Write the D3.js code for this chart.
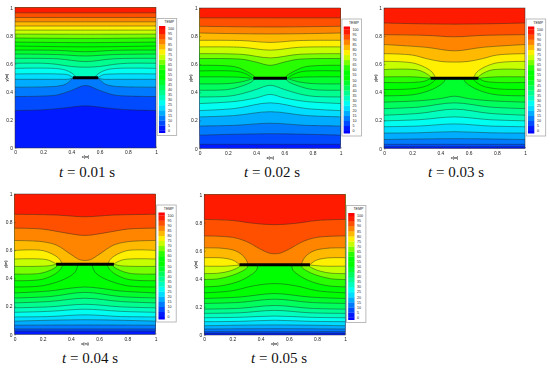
<!DOCTYPE html>
<html>
<head>
<meta charset="utf-8">
<script src="https://cdn.jsdelivr.net/npm/d3@7"></script>
<style>
  html, body { margin: 0; background: #fff; }
  svg { display: block; }
  .soft { filter: blur(0.3px); }
  .tick text, .legend text, .axis-name { font-family: "Liberation Sans", Arial, sans-serif; fill: #222; }
  .when { font-family: "Liberation Serif", serif; font-size: 15px; fill: #111; }
</style>
</head>
<body>
<div id="chart"></div>
<script>
// values
const legendLevels = [0, 5, 10, 15, 20, 25, 30, 35, 40, 45, 50, 55, 60, 65, 70, 75, 80, 85, 90, 95, 100];
const contourLevels = legendLevels.slice(1, -1);
const xTicks = [0, 0.2, 0.4, 0.6, 0.8, 1];
const yTicks = [0, 0.2, 0.4, 0.6, 0.8, 1];
const titles = ["0.01", "0.02", "0.03", "0.04", "0.05"];
const plateLeft = [0.41, 0.38, 0.33, 0.295, 0.25];

// each contour: left half only as [x, y], mirrored about x = 0.5. one entry per contourLevels
const contours01 = [
  [[0, .267], [.2, .272], [.35, .285], [.5, .30]],
  [[0, .366], [.2, .37], [.3, .378], [.4, .41], [.5, .445]],
  [[0, .433], [.2, .435], [.3, .44], [.36, .455], [.41, .497]],
  [[0, .489], [.3, .489], [.38, .49], [.41, .498]],
  [[0, .527], [.3, .527], [.38, .52], [.41, .50]],
  [[0, .567], [.3, .565], [.37, .55], [.42, .52], [.435, .50]],
  [[0, .603], [.2, .603], [.3, .595], [.4, .58], [.5, .575]],
  [[0, .638], [.3, .635], [.5, .615]],
  [[0, .669], [.3, .665], [.5, .655]],
  [[0, .697], [.3, .695], [.5, .685]],
  [[0, .726], [.5, .72]],
  [[0, .754], [.5, .75]],
  [[0, .783], [.5, .78]],
  [[0, .811], [.5, .81]],
  [[0, .839], [.5, .839]],
  [[0, .868], [.5, .868]],
  [[0, .898], [.5, .898]],
  [[0, .929], [.5, .929]],
  [[0, .962], [.5, .962]]
];
const contours02 = [
  [[0, .03], [.5, .03]],
  [[0, .095], [.5, .105]],
  [[0, .16], [.25, .165], [.5, .18]],
  [[0, .225], [.25, .235], [.5, .262]],
  [[0, .27], [.25, .285], [.5, .325]],
  [[0, .32], [.25, .335], [.4, .36], [.5, .385]],
  [[0, .367], [.2, .372], [.3, .39], [.4, .42], [.5, .45]],
  [[0, .415], [.2, .42], [.3, .445], [.37, .475], [.39, .497]],
  [[0, .46], [.2, .462], [.3, .475], [.36, .492], [.375, .497]],
  [[0, .51], [.27, .508], [.36, .50]],
  [[0, .552], [.27, .548], [.34, .525], [.375, .50]],
  [[0, .592], [.25, .582], [.33, .55], [.38, .52], [.40, .50]],
  [[0, .64], [.3, .635], [.4, .615], [.5, .592]],
  [[0, .675], [.3, .67], [.5, .645]],
  [[0, .723], [.3, .72], [.5, .70]],
  [[0, .77], [.3, .768], [.5, .755]],
  [[0, .822], [.5, .815]],
  [[0, .87], [.5, .865]],
  [[0, .93], [.5, .93]]
];
const contours03 = [
  [[0, .012], [.5, .012]],
  [[0, .03], [.5, .03]],
  [[0, .064], [.5, .07]],
  [[0, .11], [.25, .112], [.5, .12]],
  [[0, .155], [.25, .16], [.5, .175]],
  [[0, .197], [.25, .205], [.5, .225]],
  [[0, .237], [.25, .25], [.5, .28]],
  [[0, .284], [.25, .295], [.5, .325]],
  [[0, .33], [.25, .34], [.4, .355], [.5, .372]],
  [[0, .375], [.2, .382], [.3, .405], [.38, .44], [.425, .475], [.435, .497]],
  [[0, .42], [.2, .425], [.3, .445], [.35, .475], [.37, .497]],
  [[0, .47], [.2, .47], [.29, .48], [.325, .497]],
  [[0, .51], [.2, .51], [.28, .505], [.33, .50]],
  [[0, .562], [.245, .557], [.327, .514], [.335, .50]],
  [[0, .62], [.22, .605], [.34, .545], [.365, .50]],
  [[0, .675], [.2, .665], [.3, .64], [.4, .62], [.5, .615]],
  [[0, .74], [.3, .72], [.5, .695]],
  [[0, .81], [.3, .805], [.5, .795]],
  [[0, .893], [.5, .885]]
];
const contours04 = [
  [[0, .024], [.5, .024]],
  [[0, .04], [.5, .04]],
  [[0, .066], [.5, .068]],
  [[0, .095], [.5, .105]],
  [[0, .125], [.25, .128], [.5, .14]],
  [[0, .158], [.25, .165], [.5, .18]],
  [[0, .19], [.25, .197], [.5, .215]],
  [[0, .225], [.25, .235], [.5, .258]],
  [[0, .26], [.25, .27], [.5, .30]],
  [[0, .296], [.25, .31], [.4, .33], [.5, .338]],
  [[0, .338], [.206, .348], [.371, .402], [.43, .445], [.45, .497]],
  [[0, .383], [.206, .395], [.312, .449], [.345, .497]],
  [[0, .43], [.18, .435], [.26, .46], [.30, .485], [.31, .497]],
  [[0, .485], [.15, .485], [.25, .49], [.295, .50]],
  [[0, .537], [.23, .532], [.30, .50]],
  [[0, .598], [.206, .596], [.312, .544], [.335, .508], [.337, .50]],
  [[0, .669], [.2, .66], [.3, .635], [.4, .57], [.46, .533], [.5, .527]],
  [[0, .757], [.2, .75], [.35, .725], [.5, .705]],
  [[0, .856], [.3, .85], [.5, .838]]
];
const contours05 = [
  [[0, .012], [.5, .012]],
  [[0, .024], [.5, .024]],
  [[0, .043], [.5, .045]],
  [[0, .066], [.5, .072]],
  [[0, .095], [.25, .097], [.5, .105]],
  [[0, .123], [.25, .126], [.5, .135]],
  [[0, .154], [.25, .158], [.5, .175]],
  [[0, .184], [.25, .19], [.5, .21]],
  [[0, .225], [.25, .232], [.5, .255]],
  [[0, .26], [.25, .27], [.5, .295]],
  [[0, .30], [.2, .315], [.35, .35], [.5, .366]],
  [[0, .343], [.12, .35], [.24, .38], [.32, .42], [.37, .46], [.38, .497]],
  [[0, .395], [.1, .40], [.2, .425], [.27, .455], [.305, .48], [.31, .497]],
  [[0, .437], [.1, .44], [.18, .455], [.24, .48], [.26, .497]],
  [[0, .49], [.15, .49], [.25, .498]],
  [[0, .55], [.13, .548], [.21, .53], [.25, .50]],
  [[0, .62], [.12, .618], [.22, .60], [.28, .56], [.305, .52], [.31, .50]],
  [[0, .705], [.2, .695], [.3, .665], [.4, .61], [.46, .583], [.5, .578]],
  [[0, .823], [.2, .815], [.35, .795], [.5, .785]]
];
const panelContours = [contours01, contours02, contours03, contours04, contours05];

// layout: plot box of every panel and the title baseline
const panels = [
  { left: 15,    top: 7.5, title: 60 + 27, base: 177 },
  { left: 199.7, top: 8,   title: 245 + 27, base: 177 },
  { left: 384,   top: 8,   title: 429 + 27, base: 177 },
  { left: 14.5,  top: 194, title: 63 + 27, base: 363 },
  { left: 204.2, top: 194.5, title: 252 + 27, base: 363 }
];
const plotW = 141, plotH = 140.5;

// colour bar as seen in the legend, green stays pure from about 52 to 60
const color = d3.scaleLinear()
  .domain([0, 26, 52, 60, 76, 100])
  .range(["#0000ff", "#00ffff", "#00ff00", "#00ff00", "#ffff00", "#ff0000"]);

const svg = d3.select("#chart").append("svg")
  .attr("width", 550)
  .attr("height", 369);

const mirror = p => [1 - p[0], p[1]];

panels.forEach((p, i) => {
  const x = d3.scaleLinear().domain([0, 1]).range([p.left, p.left + plotW]);
  const y = d3.scaleLinear().domain([0, 1]).range([p.top + plotH, p.top]);
  const line = d3.line().x(d => x(d[0])).y(d => y(d[1])).curve(d3.curveCatmullRom.alpha(0.5));
  const g = svg.append("g").attr("class", "soft");

  // whole left-to-right path of a contour, broken at the plate when it ends on it
  const parts = c => {
    if (c[c.length - 1][0] === 0.5) return [c.concat(c.slice(0, -1).reverse().map(mirror))];
    return [c, c.map(mirror).reverse()];
  };
  const outline = c => parts(c).map((s, k) => k ? line(s).replace("M", "L") : line(s)).join("");

  g.append("rect")
    .attr("x", x(0)).attr("y", y(1))
    .attr("width", x(1) - x(0)).attr("height", y(0) - y(1))
    .attr("fill", color(2.5));

  // painter's order: every level fills everything above its contour
  g.selectAll("path.band")
    .data(panelContours[i])
    .join("path")
    .attr("class", "band")
    .attr("fill", (c, k) => color(contourLevels[k] + 2.5))
    .attr("d", c => outline(c) + "L" + x(1) + "," + y(1) + "L" + x(0) + "," + y(1) + "Z");

  g.selectAll("path.contour")
    .data(panelContours[i].flatMap(parts))
    .join("path")
    .attr("class", "contour")
    .attr("fill", "none")
    .attr("stroke", "#1c2a22")
    .attr("stroke-opacity", 0.75)
    .attr("stroke-width", 0.6)
    .attr("d", line);

  g.append("line")
    .attr("x1", x(plateLeft[i])).attr("x2", x(1 - plateLeft[i]))
    .attr("y1", y(0.5)).attr("y2", y(0.5))
    .attr("stroke", "#000")
    .attr("stroke-width", 3);

  g.append("rect")
    .attr("x", x(0)).attr("y", y(1))
    .attr("width", x(1) - x(0)).attr("height", y(0) - y(1))
    .attr("fill", "none")
    .attr("stroke", "#333")
    .attr("stroke-width", 0.5);

  const xAxis = d3.axisBottom(x).tickValues(xTicks).tickFormat(d3.format("~g"))
    .tickSizeInner(-1.5).tickSizeOuter(0).tickPadding(3);
  const yAxis = d3.axisLeft(y).tickValues(yTicks).tickFormat(d3.format("~g"))
    .tickSizeInner(-1.5).tickSizeOuter(0).tickPadding(2);

  [g.append("g").attr("transform", `translate(0,${y(0)})`).call(xAxis),
   g.append("g").attr("transform", `translate(${x(0)},0)`).call(yAxis)].forEach(a => {
    a.select(".domain").remove();
    a.selectAll("line").attr("stroke", "#333").attr("stroke-width", 0.4);
    a.selectAll("text").attr("font-size", 4.9);
  });

  g.append("text").attr("class", "axis-name")
    .attr("x", (x(0) + x(1)) / 2).attr("y", y(0) + 10.2)
    .attr("text-anchor", "middle").attr("font-size", 3.6).attr("font-weight", "bold")
    .text("x(m)");
  g.append("text").attr("class", "axis-name")
    .attr("transform", `translate(${x(0) - 7.5},${(y(0) + y(1)) / 2}) rotate(-90)`)
    .attr("text-anchor", "middle").attr("font-size", 3.6).attr("font-weight", "bold")
    .text("y(m)");

  // legend
  const lx = x(1) + 1.2, ly = y(1) + 11;
  const lg = g.append("g").attr("class", "legend");
  const ly0 = ly + 112, ly100 = ly + 10.5;
  const yLeg = d3.scaleLinear().domain([0, 100]).range([ly0, ly100]);

  lg.append("rect")
    .attr("x", lx).attr("y", ly)
    .attr("width", 19.5).attr("height", 117)
    .attr("fill", "#fff").attr("stroke", "#aaa").attr("stroke-width", 0.8);
  lg.append("text")
    .attr("x", lx + 12).attr("y", ly + 4.6)
    .attr("text-anchor", "middle").attr("font-size", 3.6)
    .text("TEMP");

  const bands = legendLevels.slice(0, -1);
  lg.selectAll("rect.swatch")
    .data(bands)
    .join("rect")
    .attr("class", "swatch")
    .attr("x", lx + 1.8).attr("width", 6.3)
    .attr("y", d => yLeg(d + 5))
    .attr("height", d => yLeg(d) - yLeg(d + 5) + 0.2)
    .attr("fill", d => color(d + 2.5));
  // half bands at both ends of the bar
  lg.append("rect").attr("x", lx + 1.8).attr("width", 6.3)
    .attr("y", yLeg(100) - 3).attr("height", 3.1).attr("fill", color(100));
  lg.append("rect").attr("x", lx + 1.8).attr("width", 6.3)
    .attr("y", yLeg(0)).attr("height", 2.5).attr("fill", color(0));

  lg.selectAll("text.level")
    .data(legendLevels)
    .join("text")
    .attr("class", "level")
    .attr("x", lx + 10.7)
    .attr("y", d => yLeg(d) + 1.3)
    .attr("font-size", 3.6)
    .text(d => d);

  const when = svg.append("text").attr("class", "when")
    .attr("x", p.title).attr("y", p.base).attr("text-anchor", "middle");
  when.append("tspan").attr("font-style", "italic").text("t");
  when.append("tspan").text(" = " + titles[i] + " s");
});
</script>
</body>
</html>
